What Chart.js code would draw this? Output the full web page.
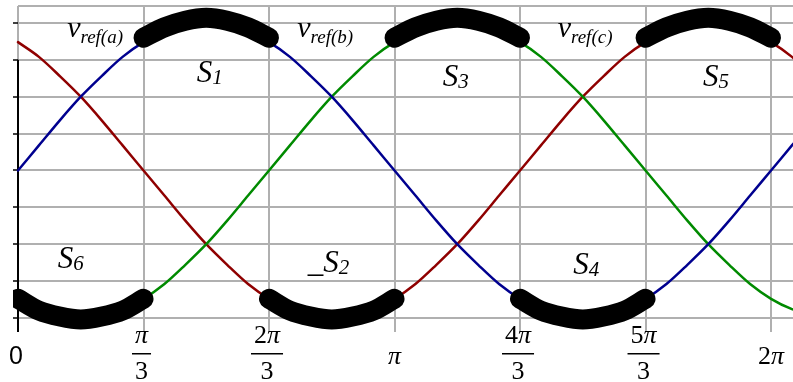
<!DOCTYPE html>
<html>
<head>
<meta charset="utf-8">
<script src="https://cdn.jsdelivr.net/npm/chart.js@4.4.0/dist/chart.umd.min.js"></script>
<style>
    body { margin: 0; background: #fff; }
    #wrap { width: 793px; height: 382px; }
</style>
</head>
<body>
<div id="wrap"><canvas id="chart"></canvas></div>
<script>
// ========== DATA (angle in degrees, one sample every 10 deg) ==========

const angles = [0, 10, 20, 30, 40, 50, 60, 70, 80, 90, 100, 110, 120, 130, 140, 150, 160, 170, 180,
    190, 200, 210, 220, 230, 240, 250, 260, 270, 280, 290, 300, 310, 320, 330, 340, 350, 360, 370, 380];

const vRefA = [0, 0.17, 0.34, 0.5, 0.64, 0.77, 0.87, 0.94, 0.98, 1, 0.98, 0.94, 0.87, 0.77, 0.64, 0.5, 0.34, 0.17, 0,
    -0.17, -0.34, -0.5, -0.64, -0.77, -0.87, -0.94, -0.98, -1, -0.98, -0.94, -0.87, -0.77, -0.64, -0.5, -0.34, -0.17, 0, 0.17, 0.34];

const vRefB = [-0.87, -0.94, -0.98, -1, -0.98, -0.94, -0.87, -0.77, -0.64, -0.5, -0.34, -0.17, 0, 0.17, 0.34, 0.5, 0.64, 0.77, 0.87,
    0.94, 0.98, 1, 0.98, 0.94, 0.87, 0.77, 0.64, 0.5, 0.34, 0.17, 0, -0.17, -0.34, -0.5, -0.64, -0.77, -0.87, -0.94, -0.98];

const vRefC = [0.87, 0.77, 0.64, 0.5, 0.34, 0.17, 0, -0.17, -0.34, -0.5, -0.64, -0.77, -0.87, -0.94, -0.98, -1, -0.98, -0.94, -0.87,
    -0.77, -0.64, -0.5, -0.34, -0.17, 0, 0.17, 0.34, 0.5, 0.64, 0.77, 0.87, 0.94, 0.98, 1, 0.98, 0.94, 0.87, 0.77, 0.64];

// clamped 60-degree sections (upper switch on / lower switch on)
const upperClamp = [null, null, null, null, null, null, 0.9, 0.97, 1.015, 1.035, 1.015, 0.97, 0.9,
    null, null, null, null, null, 0.9, 0.97, 1.015, 1.035, 1.015, 0.97, 0.9,
    null, null, null, null, null, 0.9, 0.97, 1.015, 1.035, 1.015, 0.97, 0.9, null, null];

const lowerClamp = [-0.87, -0.95, -0.99, -1.01, -0.99, -0.95, -0.87, null, null, null, null, null,
    -0.87, -0.95, -0.99, -1.01, -0.99, -0.95, -0.87, null, null, null, null, null,
    -0.87, -0.95, -0.99, -1.01, -0.99, -0.95, -0.87, null, null, null, null, null, null, null, null];

const xTickValues = [0, 60, 120, 180, 240, 300, 360];
const xTickLabels = [['0'], ['π', '3'], ['2π', '3'], ['π'], ['4π', '3'], ['5π', '3'], ['2π']];
const yGridValues = [-1, -0.75, -0.5, -0.25, 0, 0.25, 0.5, 0.75, 1];

const refLabels = [
    { main: 'v', sub: 'ref(a)', x: 23.5, y: 0.905 },
    { main: 'v', sub: 'ref(b)', x: 133.5, y: 0.905 },
    { main: 'v', sub: 'ref(c)', x: 258, y: 0.905 }
];

const switchLabels = [
    { main: 'S', sub: '1', x: 85.5, y: 0.6 },
    { main: 'S', sub: '3', x: 203, y: 0.57 },
    { main: 'S', sub: '5', x: 327.5, y: 0.57 },
    { main: 'S', sub: '6', x: 19, y: -0.66 },
    { main: '_S', sub: '2', x: 138.5, y: -0.687 },
    { main: 'S', sub: '4', x: 265.5, y: -0.705 }
];

// ========== HELPERS ==========

const SERIF = '"Liberation Serif", "Times New Roman", serif';

function toPoints(values) {
    return angles.map((a, i) => ({ x: a, y: values[i] }));
}

function lineSet(values, color, width) {
    return {
        data: toPoints(values),
        borderColor: color,
        borderWidth: width,
        pointRadius: 0,
        fill: false,
        spanGaps: false,
        cubicInterpolationMode: 'monotone',
        borderCapStyle: 'round',
        borderJoinStyle: 'round',
        clip: { left: 5, top: 10, right: 0, bottom: 10 }
    };
}

function drawSubscripted(ctx, main, sub, x, y, mainSize, subSize, drop) {
    ctx.font = `italic ${mainSize}px ${SERIF}`;
    ctx.fillText(main, x, y);
    const w = ctx.measureText(main).width;
    ctx.font = `italic ${subSize}px ${SERIF}`;
    ctx.fillText(sub, x + w, y + drop);
}

// digits upright, pi italic
function drawPiText(ctx, text, cx, baseline, size) {
    const parts = text.split(/(π)/).filter(p => p);
    const fontFor = p => (p === 'π' ? `italic ${size}px ${SERIF}` : `${size}px ${SERIF}`);
    let total = 0;
    parts.forEach(p => { ctx.font = fontFor(p); total += ctx.measureText(p).width; });
    let x = cx - total / 2;
    parts.forEach(p => {
        ctx.font = fontFor(p);
        ctx.fillText(p, x, baseline);
        x += ctx.measureText(p).width;
    });
    return total;
}

const decorations = {
    id: 'decorations',
    beforeDatasetsDraw(chart) {
        const { ctx, chartArea, scales } = chart;
        ctx.save();
        // frame top
        ctx.strokeStyle = '#b0b0b0';
        ctx.lineWidth = 2;
        ctx.beginPath();
        ctx.moveTo(chartArea.left, chartArea.top);
        ctx.lineTo(chartArea.right, chartArea.top);
        ctx.stroke();
        // y axis line
        const x0 = scales.x.getPixelForValue(0);
        ctx.strokeStyle = '#000';
        ctx.lineWidth = 2;
        ctx.beginPath();
        ctx.moveTo(x0, scales.y.getPixelForValue(0.75));
        ctx.lineTo(x0, chartArea.bottom);
        ctx.stroke();
        ctx.restore();
    },
    afterDatasetsDraw(chart) {
        const { ctx, scales } = chart;
        const xs = scales.x, ys = scales.y;
        ctx.save();
        ctx.fillStyle = '#000';
        ctx.textAlign = 'left';
        ctx.textBaseline = 'alphabetic';

        refLabels.forEach(l => {
            drawSubscripted(ctx, l.main, l.sub, xs.getPixelForValue(l.x), ys.getPixelForValue(l.y), 30, 19, 6);
        });
        switchLabels.forEach(l => {
            drawSubscripted(ctx, l.main, l.sub, xs.getPixelForValue(l.x), ys.getPixelForValue(l.y), 31, 21, 2);
        });

        // x tick labels
        xTickValues.forEach((v, i) => {
            const cx = xs.getPixelForValue(v);
            const parts = xTickLabels[i];
            if (parts[0] === '0') {
                ctx.font = `25px "Liberation Sans", Arial, sans-serif`;
                ctx.textAlign = 'center';
                ctx.fillText('0', cx - 2, 364);
                ctx.textAlign = 'left';
            } else if (parts.length === 1) {
                drawPiText(ctx, parts[0], cx, 364, 26);
            } else {
                const wNum = drawPiText(ctx, parts[0], cx - 2, 343, 26);
                const wDen = drawPiText(ctx, parts[1], cx - 2, 379, 26);
                const bar = Math.max(wNum, wDen) + 6;
                ctx.fillRect(cx - 2 - bar / 2, 353, bar, 1.5);
            }
        });
        ctx.restore();
    }
};

// ========== CHART ==========

const ctx = document.getElementById('chart').getContext('2d');

new Chart(ctx, {
    type: 'line',
    data: {
        datasets: [
            lineSet(upperClamp, '#000', 20),
            lineSet(lowerClamp, '#000', 20),
            lineSet(vRefA, '#00008f', 2.5),
            lineSet(vRefB, '#008a00', 2.5),
            lineSet(vRefC, '#8f0000', 2.5)
        ]
    },
    options: {
        responsive: true,
        maintainAspectRatio: false,
        animation: false,
        layout: { padding: { top: 6, left: 0, right: 0, bottom: 0 } },
        plugins: {
            legend: { display: false },
            tooltip: { enabled: false }
        },
        scales: {
            x: {
                type: 'linear',
                min: 0,
                max: 370.5,
                afterBuildTicks: scale => { scale.ticks = xTickValues.map(v => ({ value: v })); },
                afterFit: scale => { scale.height = 50; },
                ticks: { display: false },
                border: { display: false },
                grid: { color: '#b0b0b0', lineWidth: 2, drawTicks: false }
            },
            y: {
                type: 'linear',
                min: -1.095,
                max: 1.115,
                afterBuildTicks: scale => { scale.ticks = yGridValues.map(v => ({ value: v })); },
                afterFit: scale => { scale.width = 18; },
                ticks: { display: false },
                border: { display: false },
                grid: { color: '#b0b0b0', lineWidth: 2, drawTicks: true, tickLength: 5, tickColor: '#000', tickWidth: 1.5 }
            }
        }
    },
    plugins: [decorations]
});
</script>
</body>
</html>
